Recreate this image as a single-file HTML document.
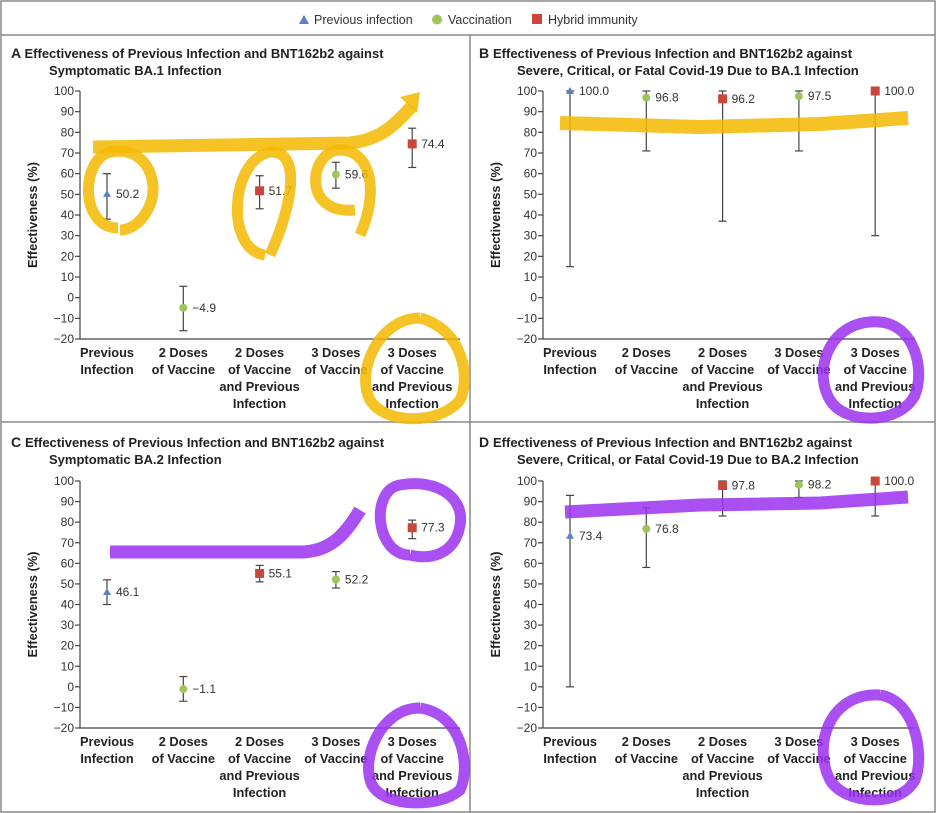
<!DOCTYPE html>
<html><head><meta charset="utf-8">
<style>
html,body{margin:0;padding:0;background:#fff;}
svg{display:block;font-family:"Liberation Sans",sans-serif;}
.tick{font-size:12px;fill:#333;}
.cat{font-size:12.8px;font-weight:bold;fill:#222;}
.ttl{font-size:13px;font-weight:bold;fill:#222;}
.val{font-size:12px;fill:#333;}
</style></head>
<body>
<svg id="chart" width="936" height="813" viewBox="0 0 936 813">
<rect x="1" y="1" width="934" height="811" fill="#fff" stroke="#888" stroke-width="1.5"/>
<line x1="1" y1="35" x2="935" y2="35" stroke="#888" stroke-width="1.5"/>
<line x1="470" y1="35" x2="470" y2="813" stroke="#888" stroke-width="1.5"/>
<line x1="1" y1="422" x2="935" y2="422" stroke="#888" stroke-width="1.5"/>
<g>
 <g><polygon points="299,24 304,15 309,24" fill="#5b82c0"/><text x="314" y="24" font-size="12.5" fill="#333">Previous infection</text></g>
 <g><circle cx="437" cy="19.5" r="5" fill="#9cc65a"/><text x="448" y="24" font-size="12.5" fill="#333">Vaccination</text></g>
 <g><rect x="532" y="14" width="10" height="10" fill="#c9473a"/><text x="548" y="24" font-size="12.5" fill="#333">Hybrid immunity</text></g>
</g>
<g id="panels"></g>
<g id="scribbles" fill="none" stroke-linecap="butt">
 <path d="M93,147 L350,143 C380,140 395,125 412,106" stroke="#f5b800" stroke-width="13" opacity="0.85"/>
 <polygon points="400,97 420,92 417,113" fill="#f5b800" opacity="0.85"/>
 <path d="M118,228 C80,228 80,160 110,152 C145,145 160,180 150,205 C140,228 125,230 120,230" stroke="#f5b800" stroke-width="11" opacity="0.85"/>
 <path d="M265,255 C225,250 230,160 270,152 C300,150 295,200 270,255" stroke="#f5b800" stroke-width="11" opacity="0.85"/>
 <path d="M355,210 C300,215 310,150 340,150 C370,150 380,190 360,235" stroke="#f5b800" stroke-width="11" opacity="0.85"/>
 <path d="M420,318 C380,318 355,370 370,400 C385,425 440,425 460,400 C470,380 465,330 420,318" stroke="#f5b800" stroke-width="11" opacity="0.85"/>
 <path d="M560,123 L700,127 L820,124 L908,118" stroke="#f5b800" stroke-width="14" opacity="0.85"/>
 <path d="M880,322 C830,318 812,370 830,400 C845,425 900,425 915,395 C925,370 915,325 880,322" stroke="#9b30f0" stroke-width="11" opacity="0.85"/>
 <path d="M110,552 L300,552 C330,552 345,535 360,510" stroke="#9b30f0" stroke-width="13" opacity="0.85"/>
 <path d="M410,555 C375,555 370,490 400,485 C440,478 465,500 460,525 C455,555 430,560 410,555" stroke="#9b30f0" stroke-width="11" opacity="0.85"/>
 <path d="M420,708 C380,708 360,760 372,785 C385,808 440,808 460,790 C470,770 465,715 420,708" stroke="#9b30f0" stroke-width="11" opacity="0.85"/>
 <path d="M565,512 L700,505 L820,503 L908,497" stroke="#9b30f0" stroke-width="13" opacity="0.85"/>
 <path d="M880,695 C830,692 812,745 830,780 C845,805 900,808 915,780 C925,755 915,700 880,695" stroke="#9b30f0" stroke-width="11" opacity="0.85"/>
</g>
</svg>
<script>
// Shared data
const categories = [["Previous","Infection"],["2 Doses","of Vaccine"],["2 Doses","of Vaccine","and Previous","Infection"],["3 Doses","of Vaccine"],["3 Doses","of Vaccine","and Previous","Infection"]];
const markerTypes = ["triangle","circle","square","circle","square"];
const yTicks = [100,90,80,70,60,50,40,30,20,10,0,-10,-20];
// Panel A
const valuesA = [50.2,-4.9,51.7,59.6,74.4];
const lowerA = [38,-16,43,53,63];
const upperA = [60,5.5,59,65.5,82];
// Panel B
const valuesB = [100.0,96.8,96.2,97.5,100.0];
const lowerB = [15,71,37,71,30];
const upperB = [100,100,100,100,100];
// Panel C
const valuesC = [46.1,-1.1,55.1,52.2,77.3];
const lowerC = [40,-7,51,48,72];
const upperC = [52,5,59,56,81];
// Panel D
const valuesD = [73.4,76.8,97.8,98.2,100.0];
const lowerD = [0,58,83,92,83];
const upperD = [93,87,100,100,100];

const NS="http://www.w3.org/2000/svg";
const colors={triangle:"#5b82c0",circle:"#9cc65a",square:"#c9473a"};
function mk(tag,attrs,parent,text){const e=document.createElementNS(NS,tag);for(const k in attrs)e.setAttribute(k,attrs[k]);if(text!==undefined)e.textContent=text;parent.appendChild(e);return e;}

function drawPanel(p){
  const root=document.getElementById('panels');
  const g=mk('g',{},root);
  
  
  const ax=p.ax, top=p.top, bot=p.bot, end=p.end;
  const y=v=>top+(100-v)*(bot-top)/120;
  const x=i=>ax+27+i*76.3;
  const t=mk('text',{x:p.lx,y:p.ty,class:'ttl'},g);
  
  
  mk('tspan',{'font-size':'14'},t,p.id+'  ');
  mk('tspan',{},t,p.t1);
  const t2=mk('text',{x:p.lx+38,y:p.ty+17,class:'ttl'},g,p.t2);
  
  
  const yl=mk('text',{x:0,y:0,class:'cat','text-anchor':'middle',transform:`translate(${ax-43},${(top+bot)/2}) rotate(-90)`},g,'Effectiveness (%)');
  
  
  const axis=mk('g',{stroke:'#444','stroke-width':'1.2'},g);
  
  
  mk('line',{x1:ax,y1:top,x2:ax,y2:bot},axis);
  mk('line',{x1:ax,y1:bot,x2:end,y2:bot},axis);
  yTicks.forEach(v=>{
    mk('line',{x1:ax-5,y1:y(v),x2:ax,y2:y(v)},axis);
    const tl=mk('text',{x:ax-6,y:y(v)+4,class:'tick','text-anchor':'end'},g,v<0?'\u2212'+(-v):String(v));
    
    
  });
  categories.forEach((lines,i)=>{
    const ct=mk('text',{class:'cat','text-anchor':'middle'},g);
    
    
    lines.forEach((ln,j)=>mk('tspan',{x:x(i),y:bot+18+j*17},ct,ln));
    const v=p.vals[i], lo=p.lo[i], hi=p.hi[i], cx=x(i), cy=y(v);
    const eg=mk('g',{stroke:'#444','stroke-width':'1.2'},g);
    
    
    mk('line',{x1:cx,y1:y(hi),x2:cx,y2:y(lo)},eg);
    mk('line',{x1:cx-4,y1:y(hi),x2:cx+4,y2:y(hi)},eg);
    mk('line',{x1:cx-4,y1:y(lo),x2:cx+4,y2:y(lo)},eg);
    const m=markerTypes[i]; let mark;
    if(m==='triangle') mark=mk('polygon',{points:`${cx-4},${cy+3} ${cx},${cy-4} ${cx+4},${cy+3}`,fill:colors[m]},g);
    else if(m==='circle') mark=mk('circle',{cx:cx,cy:cy,r:4,fill:colors[m]},g);
    else mark=mk('rect',{x:cx-4.5,y:cy-4.5,width:9,height:9,fill:colors[m]},g);
    
    
    const lab=mk('text',{x:cx+9,y:cy+4,class:'val'},g,v<0?'\u2212'+(-v).toFixed(1):v.toFixed(1));
    
    
  });
}
const tA="Effectiveness of Previous Infection and BNT162b2 against";
drawPanel({id:'A',ax:80,top:91,bot:339,end:460,lx:11,ty:58,t1:tA,t2:'Symptomatic BA.1 Infection',vals:valuesA,lo:lowerA,hi:upperA});
drawPanel({id:'B',ax:543,top:91,bot:339,end:915,lx:479,ty:58,t1:tA,t2:'Severe, Critical, or Fatal Covid-19 Due to BA.1 Infection',vals:valuesB,lo:lowerB,hi:upperB});
drawPanel({id:'C',ax:80,top:481,bot:728,end:460,lx:11,ty:447,t1:tA,t2:'Symptomatic BA.2 Infection',vals:valuesC,lo:lowerC,hi:upperC});
drawPanel({id:'D',ax:543,top:481,bot:728,end:915,lx:479,ty:447,t1:tA,t2:'Severe, Critical, or Fatal Covid-19 Due to BA.2 Infection',vals:valuesD,lo:lowerD,hi:upperD});
</script>
</body></html>
